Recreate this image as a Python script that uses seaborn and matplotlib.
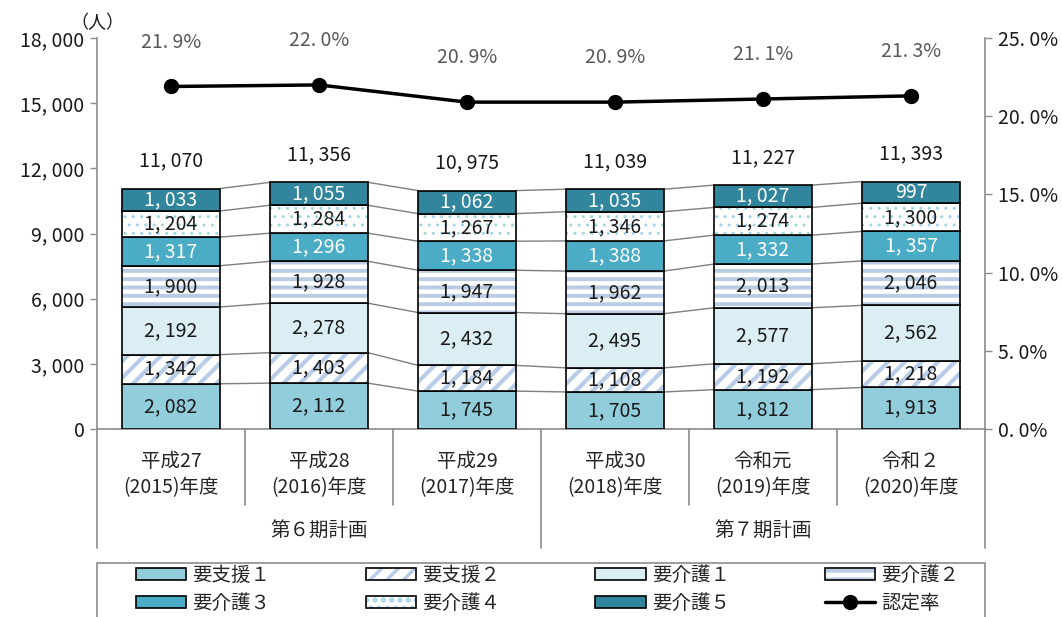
import numpy as np
import pandas as pd
import matplotlib
matplotlib.use("Agg")
import matplotlib.pyplot as plt
import matplotlib.patches as mpatches
import matplotlib.transforms as mtransforms
from matplotlib.lines import Line2D
from matplotlib.colors import to_rgba
import seaborn as sns

sns.set_style("white")
plt.rcParams['font.family'] = ['Noto Sans CJK JP', 'DejaVu Sans']
plt.rcParams['hatch.linewidth'] = 2.5

# --- データ ---
era = ["平成27", "平成28", "平成29", "平成30", "令和元", "令和２"]
fiscal = ["(2015)年度", "(2016)年度", "(2017)年度", "(2018)年度", "(2019)年度", "(2020)年度"]
plans = ["第６期計画", "第７期計画"]
levels = ["要支援１", "要支援２", "要介護１", "要介護２", "要介護３", "要介護４", "要介護５"]

shien1 = [2082, 2112, 1745, 1705, 1812, 1913]
shien2 = [1342, 1403, 1184, 1108, 1192, 1218]
kaigo1 = [2192, 2278, 2432, 2495, 2577, 2562]
kaigo2 = [1900, 1928, 1947, 1962, 2013, 2046]
kaigo3 = [1317, 1296, 1338, 1388, 1332, 1357]
kaigo4 = [1204, 1284, 1267, 1346, 1274, 1300]
kaigo5 = [1033, 1055, 1062, 1035, 1027, 997]
rate = [21.9, 22.0, 20.9, 20.9, 21.1, 21.3]

series = [shien1, shien2, kaigo1, kaigo2, kaigo3, kaigo4, kaigo5]

# 塗り, ハッチ, ハッチ色, 文字色
styles = {
    "要支援１": ("#92CDDC", None, None, "#1a1a1a"),
    "要支援２": ("white", "//", "#B9CDE8", "#1a1a1a"),
    "要介護１": ("#DAEEF3", None, None, "#1a1a1a"),
    "要介護２": ("white", "--", "#B8CCE4", "#1a1a1a"),
    "要介護３": ("#4BACC6", None, None, "white"),
    "要介護４": ("white", "..", "#A3D6E4", "#1a1a1a"),
    "要介護５": ("#31859C", None, None, "white"),
}

GRAY = "#8c8c8c"
FS = 14


def fmt_num(v):
    return f"{v:,}".replace(",", ", ")


def fmt_pct(v):
    return f"{v:.1f}%".replace(".", ". ")


def set_hatch(p, ht, hc, lw):
    p.set_hatch(ht)
    if hasattr(p, "set_hatchcolor"):
        p.set_hatchcolor(hc)
    else:
        p._hatch_color = to_rgba(hc)
    if hasattr(p, "set_hatch_linewidth"):
        p.set_hatch_linewidth(lw)


hatch_lw = {"//": 3.0, "--": 2.8, "..": 1.0}

fig = plt.figure(figsize=(10.62, 6.17), dpi=100)
ax = fig.add_axes([0.0913, 0.3047, 0.8362, 0.6337])

bar_w = 0.66
bottom = np.zeros(len(era))
cums = []
for name, vals in zip(levels, series):
    fc, ht, hc, tc = styles[name]
    sub = pd.DataFrame({"year": era, "value": vals})
    sns.barplot(data=sub, x="year", y="value", order=era, bottom=bottom.copy(),
                width=bar_w, color=fc, saturation=1, edgecolor="black",
                linewidth=1.2, errorbar=None, ax=ax, zorder=3)
    if ht:
        for p in ax.containers[-1]:
            set_hatch(p, ht, hc, hatch_lw[ht])
    for i, v in enumerate(vals):
        ax.text(i, bottom[i] + v / 2, fmt_num(v), ha="center", va="center",
                color=tc, fontsize=FS, zorder=5)
    bottom = bottom + np.array(vals)
    cums.append(bottom.copy())

# 系列線
for c in cums:
    for i in range(len(era) - 1):
        ax.plot([i + bar_w / 2, i + 1 - bar_w / 2], [c[i], c[i + 1]],
                color="#7f7f7f", lw=1, zorder=2)

# 合計
totals = cums[-1]
for i, t in enumerate(totals):
    ax.annotate(fmt_num(int(t)), (i, t), xytext=(0, 20), textcoords="offset points",
                ha="center", va="center", fontsize=FS, color="#1a1a1a")

ax.set_xlim(-0.5, 5.5)
ax.set_ylim(0, 18000)
yt = list(range(0, 18001, 3000))
ax.set_yticks(yt)
ax.set_yticklabels([fmt_num(v) for v in yt])
ax.set_xticks(range(len(era)))
ax.set_xticklabels([])
ax.set_xlabel("")
ax.set_ylabel("")
ax.tick_params(axis="y", direction="out", length=5, color=GRAY, labelsize=FS,
               labelcolor="#1a1a1a", pad=4, width=1)
ax.tick_params(axis="x", length=0)
for s in ["top", "right"]:
    ax.spines[s].set_visible(False)
for s in ["left", "bottom"]:
    ax.spines[s].set_color(GRAY)
    ax.spines[s].set_linewidth(1.2)

# 認定率
ax2 = ax.twinx()
rate_frac = [r / 100 for r in rate]
ax2.plot(range(len(era)), rate_frac, color="black", lw=2.5, marker="o",
         markersize=10, zorder=6)
for i, r in enumerate(rate):
    ax2.annotate(fmt_pct(r), (i, r / 100), xytext=(0, 32), textcoords="offset points",
                 ha="center", va="center", fontsize=FS, color="#595959")
ax2.set_ylim(0, 0.25)
pt = [0, 0.05, 0.10, 0.15, 0.20, 0.25]
ax2.set_yticks(pt)
ax2.set_yticklabels([fmt_pct(v * 100) for v in pt])
ax2.tick_params(axis="y", direction="out", length=5, color=GRAY, labelsize=FS,
                labelcolor="#1a1a1a", pad=4, width=1)
for s in ["top", "left", "bottom"]:
    ax2.spines[s].set_visible(False)
ax2.spines["right"].set_color(GRAY)
ax2.spines["right"].set_linewidth(1.2)

# 単位
fig.text(0.092, 0.963, "（人）", ha="center", va="center", fontsize=13, color="#1a1a1a")

# 横軸ラベル
trans = mtransforms.blended_transform_factory(ax.transData, ax.transAxes)
for i in range(len(era)):
    ax.text(i, -0.084, era[i], transform=trans, ha="center", va="center", fontsize=FS)
    ax.text(i, -0.151, fiscal[i], transform=trans, ha="center", va="center", fontsize=FS)
for j, p in enumerate(plans):
    ax.text(1 + 3 * j, -0.258, p, transform=trans, ha="center", va="center", fontsize=FS)
for xb in np.arange(-0.5, 6, 1.0):
    long_line = xb in (-0.5, 2.5, 5.5)
    ax.plot([xb, xb], [0, -0.304 if long_line else -0.194], transform=trans,
            color=GRAY, lw=1.2, clip_on=False)

# 凡例
handles = {}
for name in levels:
    fc, ht, hc, tc = styles[name]
    h = mpatches.Patch(facecolor=fc, edgecolor="black", linewidth=1.2)
    if ht:
        set_hatch(h, ht, hc, hatch_lw[ht])
    handles[name] = h
handles["認定率"] = Line2D([], [], color="black", lw=2.5, marker="o", markersize=10)
order = ["要支援１", "要介護３", "要支援２", "要介護４", "要介護１", "要介護５", "要介護２", "認定率"]
fig.legend([handles[k] for k in order], order, loc="upper left",
           bbox_to_anchor=(0.128, 0.084), ncol=4, frameon=False, fontsize=FS,
           handlelength=2.6, handleheight=0.6, handletextpad=0.3,
           columnspacing=4.9, labelspacing=0.35, borderpad=0, borderaxespad=0)
fig.patches.append(mpatches.Rectangle((97 / 1062, -0.05), 888 / 1062, 0.05 + 54 / 617,
                                      transform=fig.transFigure, fill=False,
                                      edgecolor=GRAY, lw=1.2))

fig.savefig("out.png", dpi=100)
